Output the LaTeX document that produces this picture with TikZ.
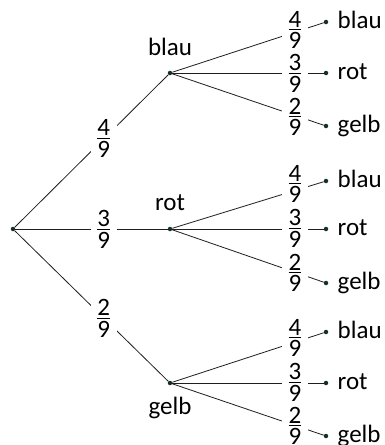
\documentclass[tikz,border=0pt]{standalone}
\usepackage{fontspec}
\setmainfont{Carlito}
% stacked fraction built from text digits
\newcommand\frc[2]{\ensuremath{\vcenter{\offinterlineskip\halign{\hfil##\hfil\cr #1\cr\noalign{\kern2.2pt\hrule height .9pt\kern2.4pt}#2\cr}}}}
\definecolor{dotc}{RGB}{20,50,32}
\definecolor{linec}{RGB}{30,30,30}
\begin{document}
\begin{tikzpicture}[x=1pt,y=-1pt,
  font=\fontsize{25}{29}\selectfont,
  dot/.style={circle,fill=dotc,inner sep=0pt,minimum size=4.5pt},
  edge/.style={draw=linec,line width=.8pt},
  prob/.style={fill=white,inner xsep=6.5pt,inner ysep=0pt},
  outcome/.style={inner sep=0pt,anchor=base}]
\useasboundingbox (0,0) rectangle (385,445);

% root and first stage
\node[dot] (r) at (13,229) {};
\node[dot] (a) at (170,73) {};
\node[dot] (b) at (170,229) {};
\node[dot] (c) at (170,383) {};

% second stage
\node[dot] (a1) at (326,22) {};
\node[dot] (a2) at (326,73) {};
\node[dot] (a3) at (326,126) {};
\node[dot] (b1) at (326,181) {};
\node[dot] (b2) at (326,229) {};
\node[dot] (b3) at (326,283) {};
\node[dot] (c1) at (326,332) {};
\node[dot] (c2) at (326,383) {};
\node[dot] (c3) at (326,436) {};

% first-stage branches
\draw[edge] (r) -- node[prob,pos=.58]{\frc49} (a);
\draw[edge] (r) -- node[prob,pos=.58]{\frc39} (b);
\draw[edge] (r) -- node[prob,pos=.58]{\frc29} (c);

% second-stage branches
\foreach \p in {a,b,c}{
  \draw[edge] (\p) -- (\p1);
  \draw[edge] (\p) -- (\p2);
  \draw[edge] (\p) -- (\p3);
}

% second-stage probabilities, stacked in one column
\node[prob] (pa1) at (295,30) {\frc49};
\node[prob] (pa2) at (295,73) {\frc39};
\node[prob] (pa3) at (295,117) {\frc29};
\node[prob] (pb1) at (295,184) {\frc49};
\node[prob] (pb2) at (295,228) {\frc39};
\node[prob] (pb3) at (295,273) {\frc29};
\node[prob] (pc1) at (295,338) {\frc49};
\node[prob] (pc2) at (295,382) {\frc39};
\node[prob] (pc3) at (295,426) {\frc29};

% first-stage outcomes
\node[outcome] (ta) at ([yshift=18pt]a) {blau};
\node[outcome] (tb) at ([yshift=19pt]b) {rot};
\node[outcome] (tc) at ([yshift=-31pt]c) {gelb};

% second-stage outcomes
\foreach \p in {a,b,c}{
  \node[outcome,anchor=base west] (t\p1) at ([xshift=11.5pt,yshift=-6pt]\p1) {blau};
  \node[outcome,anchor=base west] (t\p2) at ([xshift=11.5pt,yshift=-6pt]\p2) {rot};
  \node[outcome,anchor=base west] (t\p3) at ([xshift=11.5pt,yshift=-6pt]\p3) {gelb};
}
\end{tikzpicture}
\end{document}
